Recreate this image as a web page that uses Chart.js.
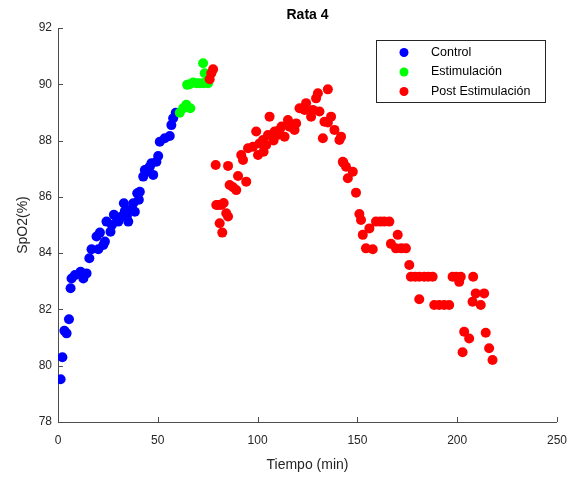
<!DOCTYPE html>
<html>
<head>
<meta charset="utf-8">
<script src="https://cdn.jsdelivr.net/npm/chart.js@4/dist/chart.umd.min.js"></script>
<style>
  body { margin: 0; background: #fff; }
  canvas { display: block; }
</style>
</head>
<body>
<canvas id="spo2Chart" width="578" height="478"></canvas>
<script>
// Rata 4 - SpO2 vs tiempo
const CHART_TITLE = 'Rata 4';
const SERIES_NAMES = ['Control', 'Estimulación', 'Post Estimulación'];
const X_TICKS = [0, 50, 100, 150, 200, 250];
const Y_TICKS = [78, 80, 82, 84, 86, 88, 90, 92];

// Control
const controlTime = [1.3, 2.2, 3.2, 4.3, 5.5, 6.3, 6.8, 8.5, 11.3, 12.7, 14.3, 15.7, 16.8, 19.3, 20.2, 21.0,
    22.7, 23.5, 24.3, 26.3, 27.0, 28.0, 29.5, 30.2, 31.8, 33.0, 33.5, 34.5, 35.2, 36.0, 37.7, 38.5, 39.7,
    40.5, 41.0, 42.7, 43.5, 44.3, 45.0, 46.0, 46.8, 47.7, 49.3, 50.2, 51.0, 53.5, 56.0, 56.8, 57.7, 59.0];
const controlSpO2 = [79.52, 80.30, 81.24, 81.15, 81.65, 82.75, 83.10, 83.22, 83.34, 83.10, 83.28, 83.82, 84.14, 84.59, 84.14, 84.73,
    84.29, 84.41, 85.12, 84.76, 85.00, 85.36, 85.25, 85.12, 85.30, 85.77, 85.50, 85.30, 85.12, 85.53, 85.77, 85.47, 86.13,
    85.90, 86.18, 86.72, 86.95, 86.89, 87.00, 87.07, 87.19, 86.78, 87.25, 87.45, 87.96, 88.08, 88.16, 88.55, 88.79, 88.99];

// Estimulación
const estimTime = [61.0, 62.7, 64.3, 66.3, 64.7, 66.0, 67.7, 69.5, 71.0, 73.0, 75.2, 72.7, 73.5, 74.5];
const estimSpO2 = [88.99, 89.15, 89.27, 89.15, 89.98, 90.00, 90.06, 90.04, 90.04, 90.04, 90.04, 90.75, 90.39, 90.10];

// Post Estimulación
const postTime = [76.0, 76.8, 77.7, 79.0, 79.3, 80.2, 81.0, 81.8, 82.3, 83.0, 84.3, 85.2, 85.2, 86.0, 87.7, 89.3,
    90.2, 91.8, 92.7, 94.3, 95.2, 97.7, 99.3, 100.2, 101.0, 102.7, 103.0, 104.3, 105.2, 106.0, 108.0, 108.5,
    110.0, 111.0, 112.0, 113.5, 115.2, 116.0, 118.5, 119.3, 121.0, 123.5, 124.3, 126.8, 127.7, 129.3, 130.2,
    131.0, 132.7, 133.5, 135.2, 135.2, 136.8, 138.5, 141.0, 141.8, 142.7, 143.0, 144.3, 145.2, 147.7, 149.3,
    151.0, 151.8, 152.7, 154.3, 156.0, 157.7, 159.3, 161.5, 163.5, 166.0, 166.8, 169.3, 170.2, 172.0, 174.3,
    176.0, 176.8, 179.0, 181.0, 183.5, 185.5, 187.7, 181.0, 188.5, 191.0, 193.5, 196.0, 197.7, 199.5, 201.0,
    201.8, 202.7, 203.5, 206.0, 207.7, 208.0, 209.3, 211.8, 213.5, 214.3, 216.0, 217.7];
const postSpO2 = [90.18, 90.39, 90.53, 87.13, 85.71, 85.71, 85.06, 85.71, 84.73, 85.78, 85.42, 85.30, 87.10, 86.42, 86.34, 86.24,
    86.74, 87.49, 87.31, 86.54, 87.73, 87.78, 88.32, 87.49, 87.90, 88.02, 87.60, 87.84, 88.20, 88.85, 88.00, 88.32,
    88.20, 88.38, 88.50, 88.14, 88.73, 88.49, 88.38, 88.61, 89.15, 89.09, 89.33, 88.85, 89.09, 89.50, 89.68,
    89.03, 88.08, 88.67, 89.82, 88.64, 88.85, 88.38, 88.02, 88.14, 87.25, 87.21, 87.07, 86.66, 86.89, 86.15,
    85.39, 85.18, 84.65, 84.17, 84.88, 84.14, 85.12, 85.12, 85.12, 85.12, 84.33, 84.17, 84.65, 84.17, 84.17,
    83.58, 83.16, 83.16, 83.16, 83.16, 83.16, 83.16, 82.36, 82.16, 82.16, 82.16, 82.16, 83.16, 83.16, 82.98,
    83.16, 80.48, 81.21, 80.97, 82.27, 83.16, 82.57, 82.16, 82.57, 81.17, 80.62, 80.20];

const SERIES_COLORS = ['#0000FF', '#00FF00', '#FF0000'];
const AXIS_COLOR = '#262626';
const AXIS_LINE_COLOR = '#4d4d4d';
const FONT_FAMILY = "'Liberation Sans', Arial, sans-serif";

function toPoints(xs, ys) {
    return xs.map((x, i) => ({ x: x, y: ys[i] }));
}

// titulo centrado sobre el area de la grafica
const titlePlugin = {
    id: 'matlabTitle',
    afterDraw(chart) {
        const { ctx, chartArea } = chart;
        ctx.save();
        ctx.fillStyle = '#000';
        ctx.font = 'bold 14px ' + FONT_FAMILY;
        ctx.textAlign = 'center';
        ctx.textBaseline = 'middle';
        ctx.fillText(CHART_TITLE, (chartArea.left + chartArea.right) / 2, 15);
        ctx.restore();
    }
};

// marcas de los ejes hacia adentro (estilo MATLAB)
const innerTicksPlugin = {
    id: 'innerTicks',
    afterDraw(chart) {
        const { ctx, chartArea, scales } = chart;
        ctx.save();
        ctx.strokeStyle = AXIS_LINE_COLOR;
        ctx.lineWidth = 1;
        ctx.beginPath();
        X_TICKS.forEach(v => {
            const px = Math.round(scales.x.getPixelForValue(v)) + 0.5;
            ctx.moveTo(px, chartArea.bottom);
            ctx.lineTo(px, chartArea.bottom - 5);
        });
        Y_TICKS.forEach(v => {
            const py = Math.round(scales.y.getPixelForValue(v)) + 0.5;
            ctx.moveTo(chartArea.left, py);
            ctx.lineTo(chartArea.left + 5, py);
        });
        ctx.stroke();
        ctx.restore();
    }
};

// leyenda con recuadro dentro del area
const boxLegendPlugin = {
    id: 'boxLegend',
    afterDraw(chart) {
        const { ctx } = chart;
        const left = 376.5, top = 40.5, width = 169, height = 62;
        ctx.save();
        ctx.fillStyle = '#fff';
        ctx.fillRect(left, top, width, height);
        ctx.strokeStyle = AXIS_COLOR;
        ctx.lineWidth = 1;
        ctx.strokeRect(left, top, width, height);
        ctx.font = '12.5px ' + FONT_FAMILY;
        ctx.textBaseline = 'middle';
        ctx.textAlign = 'left';
        chart.data.datasets.forEach((ds, i) => {
            const cy = 52.5 + i * 19.5;
            ctx.fillStyle = ds.backgroundColor;
            ctx.beginPath();
            ctx.arc(404, cy, 4.5, 0, Math.PI * 2);
            ctx.fill();
            ctx.fillStyle = '#000';
            ctx.fillText(ds.label, 431, cy);
        });
        ctx.restore();
    }
};

const datasets = [
    toPoints(controlTime, controlSpO2),
    toPoints(estimTime, estimSpO2),
    toPoints(postTime, postSpO2)
].map((pts, i) => ({
    label: SERIES_NAMES[i],
    data: pts,
    backgroundColor: SERIES_COLORS[i],
    borderColor: SERIES_COLORS[i],
    borderWidth: 0,
    pointRadius: 5,
    pointHoverRadius: 5,
    order: 3 - i   // la ultima serie queda encima
}));

new Chart(document.getElementById('spo2Chart'), {
    type: 'scatter',
    data: { datasets: datasets },
    options: {
        responsive: false,
        animation: false,
        layout: { padding: { top: 28, right: 20, left: 0, bottom: 0 } },
        plugins: {
            legend: { display: false },
            title: { display: false },
            tooltip: { enabled: false }
        },
        scales: {
            x: {
                type: 'linear',
                min: 0,
                max: 250,
                afterFit(scale) { scale.height = 56; },
                afterBuildTicks(scale) { scale.ticks = X_TICKS.map(v => ({ value: v })); },
                grid: { display: false, drawTicks: false },
                border: { display: true, color: AXIS_LINE_COLOR, width: 1 },
                ticks: {
                    color: AXIS_COLOR,
                    padding: 11,
                    maxRotation: 0,
                    font: { size: 12, family: FONT_FAMILY }
                },
                title: {
                    display: true,
                    text: 'Tiempo (min)',
                    color: AXIS_COLOR,
                    padding: { top: 4, bottom: 4 },
                    font: { size: 14, family: FONT_FAMILY }
                }
            },
            y: {
                type: 'linear',
                min: 78,
                max: 92,
                afterFit(scale) { scale.width = 58; },
                afterBuildTicks(scale) { scale.ticks = Y_TICKS.map(v => ({ value: v })); },
                grid: { display: false, drawTicks: false },
                border: { display: true, color: AXIS_LINE_COLOR, width: 1 },
                ticks: {
                    color: AXIS_COLOR,
                    padding: 6,
                    font: { size: 12, family: FONT_FAMILY }
                },
                title: {
                    display: true,
                    text: 'SpO2(%)',
                    color: AXIS_COLOR,
                    padding: { top: 15, bottom: 4 },
                    font: { size: 14, family: FONT_FAMILY }
                }
            }
        }
    },
    plugins: [titlePlugin, innerTicksPlugin, boxLegendPlugin]
});
</script>
</body>
</html>
